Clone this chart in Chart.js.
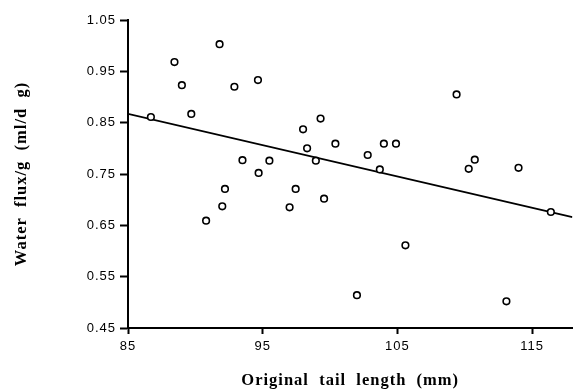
<!DOCTYPE html>
<html>
<head>
<meta charset="utf-8">
<script src="https://cdn.jsdelivr.net/npm/chart.js@4.4.0/dist/chart.umd.min.js"></script>
<style>
  body { margin: 0; background: #fff; }
  #wrap { width: 578px; height: 392px; }
</style>
</head>
<body>
<div id="wrap"><canvas id="fluxchart"></canvas></div>
<script>
// tail length (mm) vs water flux per gram (ml/d g)
var tailLength = [86.7, 88.45, 89.0, 89.7, 90.8, 91.8, 92.0, 92.2, 92.9, 93.5,
                  94.65, 94.7, 95.5, 97.0, 97.45, 98.0, 98.3, 98.95, 99.3, 99.56,
                  100.4, 102.0, 102.8, 103.7, 104.0, 104.9, 105.6, 109.4, 110.3, 110.75,
                  113.1, 114.0, 116.4];
var waterFlux  = [0.861, 0.968, 0.923, 0.867, 0.659, 1.003, 0.687, 0.721, 0.920, 0.777,
                  0.933, 0.752, 0.776, 0.685, 0.721, 0.837, 0.800, 0.776, 0.858, 0.702,
                  0.809, 0.514, 0.787, 0.759, 0.809, 0.809, 0.611, 0.905, 0.760, 0.778,
                  0.502, 0.762, 0.676];

// fitted regression line, read at the two ends of the axis
var fitX = [85, 118];
var fitY = [0.867, 0.666];

var xTicks = [85, 95, 105, 115];
var yTicks = [0.45, 0.55, 0.65, 0.75, 0.85, 0.95, 1.05];

var pts = tailLength.map(function(x, i){ return {x: x, y: waterFlux[i]}; });
var fitPts = fitX.map(function(x, i){ return {x: x, y: fitY[i]}; });

var tickFont = {family: '"Liberation Sans", Arial, sans-serif', size: 13};
var titleFont = {family: '"Liberation Serif", "Times New Roman", serif', size: 16.5, weight: 'bold'};

// old typewriter-ish spacing on all the text
var spacing = {
  id: 'spacing',
  beforeUpdate: function(chart){ chart.ctx.letterSpacing = '1px'; },
  beforeDraw: function(chart){ chart.ctx.letterSpacing = '1px'; }
};

new Chart(document.getElementById('fluxchart'), {
  type: 'scatter',
  data: {
    datasets: [{
      label: 'flux',
      data: pts,
      pointRadius: 3.3,
      pointBorderWidth: 1.6,
      pointBorderColor: '#000',
      pointBackgroundColor: '#fff'
    }, {
      label: 'fit',
      data: fitPts,
      showLine: true,
      borderColor: '#000',
      borderWidth: 1.8,
      pointRadius: 0
    }]
  },
  plugins: [spacing],
  options: {
    responsive: true,
    maintainAspectRatio: false,
    animation: false,
    layout: { padding: {top: 20, right: 1, left: 0, bottom: 0} },
    plugins: { legend: {display: false}, tooltip: {enabled: false} },
    scales: {
      x: {
        type: 'linear',
        min: 85,
        max: 118,
        afterBuildTicks: function(scale){ scale.ticks = xTicks.map(function(v){ return {value: v}; }); },
        afterFit: function(scale){ scale.height = 64; },
        grid: { drawOnChartArea: false, drawTicks: true, tickLength: 6, tickColor: '#000', tickWidth: 2 },
        border: { display: true, color: '#000', width: 2 },
        ticks: { color: '#000', font: tickFont, padding: 5, maxRotation: 0 },
        title: { display: true, text: 'Original  tail  length  (mm)', color: '#000', font: titleFont, padding: {top: 4, bottom: 1} }
      },
      y: {
        min: 0.45,
        max: 1.05,
        afterBuildTicks: function(scale){ scale.ticks = yTicks.map(function(v){ return {value: v}; }); },
        afterFit: function(scale){ scale.width = 128; },
        grid: { drawOnChartArea: false, drawTicks: true, tickLength: 8, tickColor: '#000', tickWidth: 2 },
        border: { display: true, color: '#000', width: 2 },
        ticks: { color: '#000', font: tickFont, padding: 4, callback: function(v){ return v.toFixed(2); } },
        title: { display: true, text: 'Water  flux/g  (ml/d  g)', color: '#000', font: titleFont, padding: {top: 12, bottom: 4} }
      }
    }
  }
});
</script>
</body>
</html>
